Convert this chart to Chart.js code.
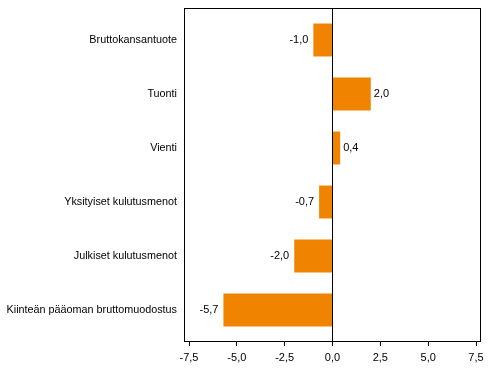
<!DOCTYPE html>
<html>
<head>
<meta charset="utf-8">
<script src="https://cdn.jsdelivr.net/npm/chart.js@4/dist/chart.umd.min.js"></script>
<style>
  html, body { margin: 0; padding: 0; background: #fff; }
  #c { display: block; }
</style>
</head>
<body>
<canvas id="c" width="491" height="377"></canvas>
<script>
const categories = [
  "Bruttokansantuote",
  "Tuonti",
  "Vienti",
  "Yksityiset kulutusmenot",
  "Julkiset kulutusmenot",
  "Kiinteän pääoman bruttomuodostus"
];
const values = [-1.0, 2.0, 0.4, -0.7, -2.0, -5.7];
const xTicks = [-7.5, -5.0, -2.5, 0.0, 2.5, 5.0, 7.5];

const fmt = v => v.toFixed(1).replace('.', ',');
const FAMILY = "'Liberation Sans', Arial, sans-serif";
const FONT = { family: FAMILY, size: 11 };
const YFONT = { family: FAMILY, size: 10.8 };
const PAD = 5; // gap between plot frame and data area

const framePlugin = {
  id: 'frame',
  afterDraw(chart) {
    const a = chart.chartArea;
    const ctx = chart.ctx;
    const L = Math.round(a.left) - PAD, R = Math.round(a.right) + PAD;
    const T = Math.round(a.top) - PAD, B = Math.round(a.bottom) + PAD;
    ctx.save();
    ctx.strokeStyle = '#000';
    ctx.lineWidth = 1;
    ctx.strokeRect(L + 0.5, T + 0.5, R - L - 1, B - T - 1);
    const xs = chart.scales.x;
    const z = Math.floor(xs.getPixelForValue(0)) + 0.5;
    ctx.beginPath();
    ctx.moveTo(z, T);
    ctx.lineTo(z, B);
    ctx.stroke();
    ctx.beginPath();
    xTicks.forEach(v => {
      const px = Math.floor(xs.getPixelForValue(v)) + 0.5;
      ctx.moveTo(px, B - 1);
      ctx.lineTo(px, B + 4);
    });
    ctx.stroke();
    ctx.restore();
  }
};

const labelPlugin = {
  id: 'vlabels',
  afterDatasetsDraw(chart) {
    const ctx = chart.ctx;
    const meta = chart.getDatasetMeta(0);
    ctx.save();
    ctx.font = FONT.size + 'px ' + FONT.family;
    ctx.fillStyle = '#000';
    ctx.textBaseline = 'middle';
    meta.data.forEach((el, i) => {
      const v = values[i];
      if (v < 0) {
        ctx.textAlign = 'right';
        ctx.fillText(fmt(v), el.x - 5, el.y);
      } else {
        ctx.textAlign = 'left';
        ctx.fillText(fmt(v), el.x + 3, el.y);
      }
    });
    ctx.restore();
  }
};

const hiddenTicks = len => ({
  display: true,
  drawOnChartArea: false,
  drawTicks: true,
  tickLength: len,
  tickColor: 'rgba(0,0,0,0)',
  color: 'rgba(0,0,0,0)'
});

new Chart(document.getElementById('c'), {
  type: 'bar',
  data: {
    labels: categories,
    datasets: [{
      data: values,
      backgroundColor: '#F08300',
      borderWidth: 0,
      categoryPercentage: 1,
      barPercentage: 0.61
    }]
  },
  options: {
    indexAxis: 'y',
    responsive: false,
    animation: false,
    layout: { padding: { top: 13, right: 15, left: 0, bottom: 0 } },
    plugins: { legend: { display: false }, tooltip: { enabled: false } },
    scales: {
      x: {
        type: 'linear',
        min: -7.5,
        max: 7.5,
        afterBuildTicks: s => { s.ticks = xTicks.map(v => ({ value: v })); },
        afterFit: s => { s.height = 40; },
        border: { display: false },
        grid: hiddenTicks(14),
        ticks: {
          font: FONT,
          color: '#000',
          padding: 0,
          maxRotation: 0,
          autoSkip: false,
          callback: v => fmt(v)
        }
      },
      y: {
        type: 'category',
        offset: true,
        afterFit: s => { s.width = 189; },
        border: { display: false },
        grid: hiddenTicks(12),
        ticks: {
          font: YFONT,
          color: '#000',
          padding: 0,
          autoSkip: false
        }
      }
    }
  },
  plugins: [framePlugin, labelPlugin]
});
</script>
</body>
</html>
